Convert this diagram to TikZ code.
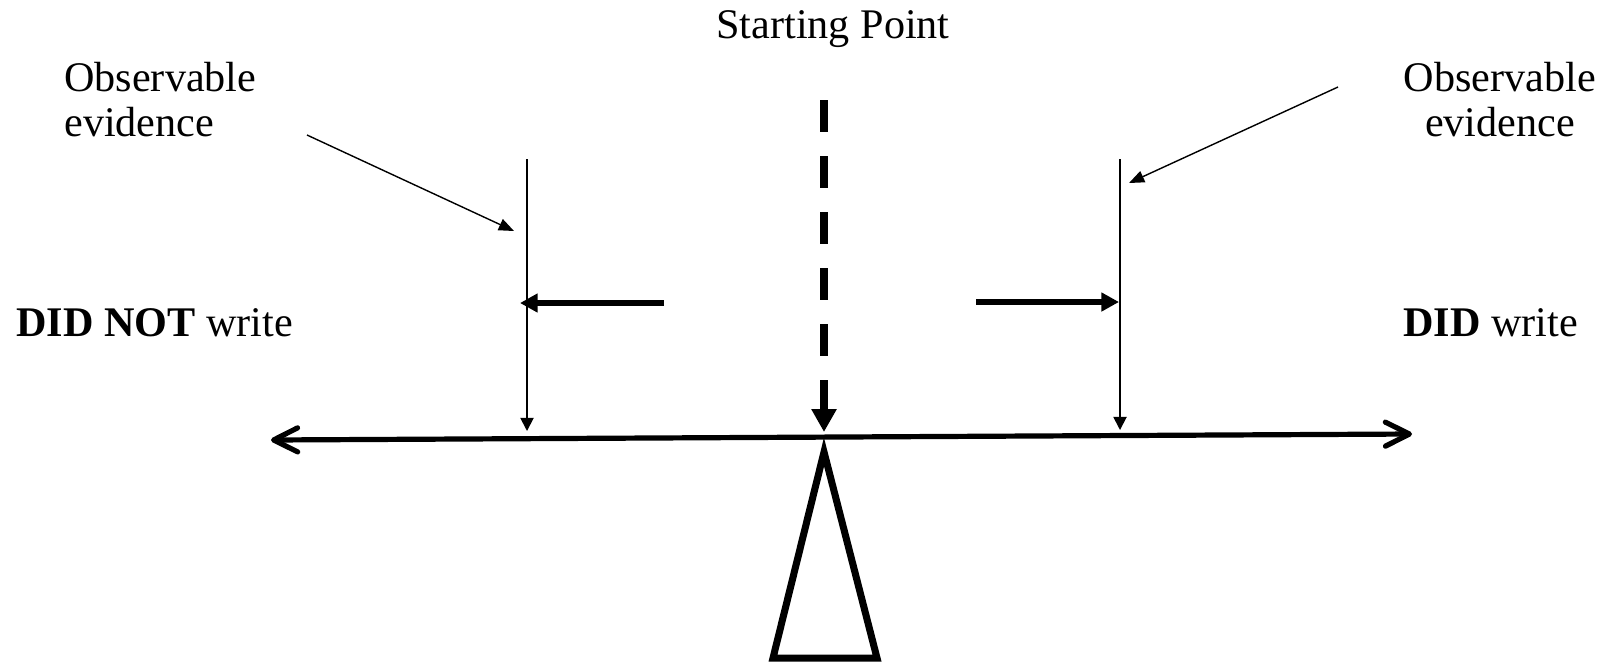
\documentclass[tikz,border=0pt]{standalone}
\usepackage{fontspec}
\setmainfont{Liberation Serif}
\usetikzlibrary{arrows.meta,positioning,calc}

\begin{document}
\begin{tikzpicture}[>=Latex, x=0.025cm, y=-0.025cm]
    \useasboundingbox (0,0) rectangle (1608,667);
    \tikzset{lbl/.style={font=\fontsize{30pt}{32pt}\selectfont, inner sep=0pt}}

    \node[lbl] (start) at (833,29) {Starting Point};
    \node[lbl, align=left, anchor=west] (obsL) at (64,100) {Observable\\evidence};
    \node[lbl, align=center] (obsR) at (1500,100) {Observable\\evidence};
    \node[lbl, anchor=west] (didnot) at (16,323) {\textbf{DID NOT} write};
    \node[lbl, anchor=west] (did) at (1403,323) {\textbf{DID} write};

    \coordinate (beamL) at (271,440);
    \coordinate (beamR) at (1412,434);
    \coordinate (dashTop) at (824,100);
    \coordinate (pivot) at (824,432);
    \coordinate (evL) at (527,159);
    \coordinate (evLb) at (527,431);
    \coordinate (evR) at (1120,159);
    \coordinate (evRb) at (1120,430);
    \coordinate (pushL) at (664,303);
    \coordinate (hitL) at (520,303);
    \coordinate (pushR) at (976,302);
    \coordinate (hitR) at (1119,302);
    \coordinate (ptrL) at (307,135);
    \coordinate (tipL) at (514,231);
    \coordinate (ptrR) at (1338,87);
    \coordinate (tipR) at (1129,183);

    % beam and fulcrum
    \draw[line width=3.7pt, {Straight Barb[length=0.6cm, width=0.6cm, line cap=round, line join=round]}-{Straight Barb[length=0.6cm, width=0.6cm, line cap=round, line join=round]}] (beamL) -- (beamR);
    \draw[line width=5pt, line join=miter] (824,452) -- (877,658) -- (773,658) -- cycle;
    \draw[line width=5pt, dash pattern=on 0.8cm off 0.6cm, -{Triangle[length=0.575cm, width=0.6cm]}] (dashTop) -- (pivot);

    % evidence lines
    \draw[line width=1.3pt, -{Triangle[length=0.33cm, width=0.33cm]}] (evL) -- (evLb);
    \draw[line width=1.3pt, -{Triangle[length=0.33cm, width=0.33cm]}] (evR) -- (evRb);
    \draw[line width=4.3pt, -{Triangle[length=0.44cm, width=0.45cm]}] (pushL) -- (hitL);
    \draw[line width=4.3pt, -{Triangle[length=0.44cm, width=0.45cm]}] (pushR) -- (hitR);
    \draw[line width=1pt, -{Triangle[length=0.38cm, width=0.3cm]}] (ptrL) -- (tipL);
    \draw[line width=1pt, -{Triangle[length=0.38cm, width=0.3cm]}] (ptrR) -- (tipR);
\end{tikzpicture}
\end{document}
